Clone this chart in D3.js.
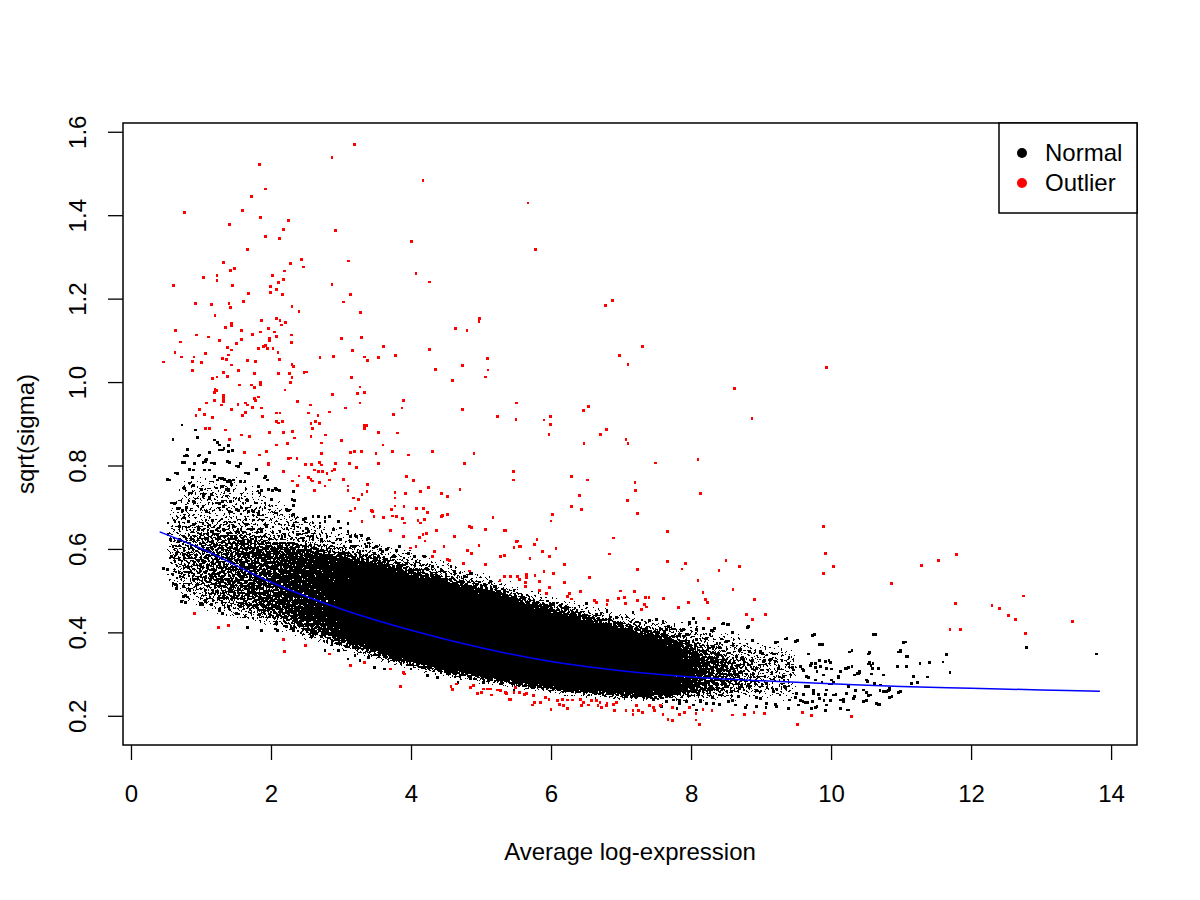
<!DOCTYPE html>
<html>
<head>
<meta charset="utf-8">
<script src="https://cdn.jsdelivr.net/npm/d3@7"></script>
<style>
    body { margin: 0; background: #fff; }
    text { font-family: "Liberation Sans", Arial, Helvetica, sans-serif; }
</style>
</head>
<body>
<script>
const WIDTH = 1200
const HEIGHT = 900

// plot box, R style
const BOX = { left: 123, right: 1137, top: 123, bottom: 745 }

const xTicks = [0, 2, 4, 6, 8, 10, 12, 14]
const yTicks = [0.2, 0.4, 0.6, 0.8, 1.0, 1.2, 1.4, 1.6]
const legendLabels = ["Normal", "Outlier"]
const legendColors = ["#000000", "#ff0000"]

// fitted trend (blue)
const trendX = [0.41, 1, 2, 3, 4, 5, 6, 7, 8, 9, 10, 11, 12, 13, 13.84]
const trendY = [0.641, 0.601, 0.52, 0.456, 0.405, 0.363, 0.330, 0.308, 0.293, 0.284, 0.277, 0.270, 0.266, 0.262, 0.259]

// band where the normal cloud is packed solid
const coreX = [0.5, 0.7, 1.0, 1.5, 2.0, 2.5, 3.0, 3.5, 4.0, 4.5, 5.0, 5.5, 6.0, 6.5, 7.0, 7.5, 8.0, 8.5, 9.0, 9.4]
const coreHi = [0.61, 0.64, 0.65, 0.64, 0.62, 0.605, 0.585, 0.565, 0.54, 0.52, 0.50, 0.475, 0.45, 0.43, 0.41, 0.39, 0.37, 0.345, 0.325, 0.305]
const coreLo = [0.565, 0.53, 0.50, 0.47, 0.44, 0.41, 0.38, 0.353, 0.328, 0.308, 0.292, 0.277, 0.264, 0.255, 0.249, 0.246, 0.249, 0.258, 0.27, 0.284]
// how packed that band is along x (0.85 solid, 0.5 about half covered)
const densityX = [0.5, 1.0, 2.0, 2.8, 3.4, 4.0, 7.4, 8.2, 8.8, 9.4]
const densityS = [0.47, 0.52, 0.58, 0.68, 0.78, 0.85, 0.85, 0.60, 0.50, 0.44]

// thinner halo round the band
const haloX = [0.45, 0.8, 1.3, 2.0, 2.5, 3.0, 4.0, 5.0, 6.0, 7.0, 8.0, 9.0, 9.6]
const haloHi = [0.68, 0.78, 0.78, 0.74, 0.69, 0.66, 0.61, 0.555, 0.50, 0.46, 0.43, 0.39, 0.36]
const haloLo = [0.52, 0.46, 0.43, 0.40, 0.37, 0.345, 0.305, 0.275, 0.25, 0.236, 0.228, 0.226, 0.235]
const haloS = 0.43

// normal genes read one by one, mostly outside the band
const normalPts = [
    [0.73,0.897],[0.60,0.863],[0.92,0.885],[0.95,0.868],[0.81,0.839],[0.79,0.825],[1.19,0.861],[1.24,0.855],[1.26,0.849],[1.31,0.837],
    [1.33,0.841],[1.40,0.833],[1.45,0.835],[1.39,0.847],[1.12,0.831],[1.07,0.813],[1.19,0.805],[0.55,0.765],[0.66,0.781],[0.77,0.808],
    [0.81,0.823],[0.89,0.789],[0.88,0.772],[0.89,0.753],[0.98,0.825],[1.07,0.809],[1.05,0.789],[1.12,0.789],[1.19,0.773],[1.24,0.765],
    [1.31,0.769],[1.38,0.761],[1.42,0.761],[1.47,0.765],[1.41,0.807],[1.54,0.797],[1.57,0.804],[1.68,0.781],[1.63,0.761],[0.77,0.745],
    [0.83,0.733],[0.89,0.713],[1.04,0.729],[1.12,0.721],[1.31,0.749],[1.40,0.743],[1.31,0.713],[1.26,0.709],[1.42,0.713],[1.83,0.749],
    [1.87,0.741],[1.92,0.773],[1.95,0.765],[2.02,0.741],[2.06,0.745],[2.12,0.741],[2.32,0.737],[2.33,0.717],[2.32,0.705],[2.25,0.693],
    [2.30,0.681],[0.62,0.709],[0.67,0.697],[0.74,0.693],[0.79,0.699],[1.54,0.693],[1.66,0.717],[1.68,0.689],[1.73,0.693],[1.83,0.689],
    [2.68,0.677],[2.77,0.675],[2.84,0.677],[2.96,0.665],[2.49,0.673],[2.51,0.649],[2.32,0.657],[2.23,0.649],[3.10,0.661],[3.13,0.629],
    [3.20,0.633],[3.29,0.633],[3.39,0.625],[3.36,0.605],[3.48,0.589],[3.53,0.581],[3.67,0.601],[3.79,0.597],[3.84,0.606],[3.96,0.589],
    [4.05,0.581],[4.07,0.569],[4.19,0.581],[4.31,0.557],[4.43,0.549],[4.57,0.557],[4.62,0.545],[4.76,0.533],[4.86,0.541],[5.00,0.513],
    [5.14,0.521],[5.19,0.509],[5.33,0.493],[5.47,0.485],[5.54,0.469],
    [0.52,0.550],[0.63,0.515],[0.78,0.472],[0.78,0.489],[0.81,0.485],[1.02,0.466],[1.07,0.477],[1.27,0.452],[1.31,0.446],[1.40,0.457],
    [1.54,0.444],[1.66,0.412],[1.59,0.469],[1.87,0.404],[2.06,0.408],[2.09,0.404],[2.32,0.404],[2.44,0.416],[2.58,0.390],[2.77,0.356],
    [2.96,0.356],[3.10,0.336],[3.20,0.344],[3.27,0.332],[3.39,0.340],[3.48,0.316],[3.62,0.312],[4.00,0.312],[4.24,0.296],[4.38,0.292],
    [4.52,0.300],[4.67,0.280],[4.85,0.288],[5.04,0.280],[5.28,0.276],[5.47,0.260],
    [5.33,0.501],[5.47,0.501],[5.57,0.484],[5.66,0.472],[5.80,0.472],[5.94,0.460],[6.04,0.469],[6.13,0.465],[6.23,0.460],[6.37,0.452],
    [6.51,0.469],[6.65,0.444],[6.80,0.452],[6.94,0.436],[7.17,0.448],[7.41,0.428],[7.51,0.430],[7.60,0.424],[7.74,0.408],[7.86,0.404],
    [7.98,0.420],[8.07,0.424],[8.17,0.408],[8.31,0.404],[8.45,0.420],[8.52,0.419],[8.59,0.400],[8.81,0.412],[8.88,0.380],[9.21,0.376],
    [9.35,0.384],[9.49,0.379],[10.95,0.318],
    [8.22,0.348],[8.41,0.364],[8.50,0.332],[8.59,0.312],[8.69,0.356],[8.74,0.340],[8.88,0.332],[9.02,0.348],[9.07,0.324],[9.19,0.348],
    [9.30,0.332],[9.40,0.340],[9.45,0.316],[9.59,0.312],[9.68,0.348],[9.78,0.316],[9.83,0.332],[9.97,0.332],[10.01,0.312],[10.11,0.292],
    [10.25,0.316],[10.39,0.300],[10.53,0.324],[10.58,0.300],[10.70,0.260],[10.82,0.260],[10.01,0.276],[9.92,0.252],[9.78,0.220],[9.64,0.232],
    [9.49,0.244],[9.35,0.268],[9.21,0.228],[9.07,0.220],[8.93,0.244],[8.78,0.220],[8.69,0.268],[8.59,0.236],[8.41,0.228],[8.31,0.244],
    [10.18,0.240],[10.35,0.260],[10.51,0.236],[10.68,0.228],
    [9.74,0.392],[9.83,0.371],[9.88,0.371],[10.61,0.394],[10.26,0.353],[10.53,0.348],[11.04,0.375],[10.96,0.353],[10.99,0.353],[11.08,0.342],
    [11.65,0.347],[11.60,0.329],[11.41,0.327],[11.27,0.325],[11.70,0.303],[11.38,0.293],[11.24,0.279],[11.15,0.277],[10.96,0.256],[10.79,0.259],
    [10.84,0.243],[10.70,0.227],[10.71,0.274],[10.62,0.278],[10.52,0.283],[10.57,0.320],[10.55,0.328],[10.59,0.313],[10.41,0.303],[10.38,0.302],
    [10.30,0.318],[10.25,0.315],[10.20,0.313],[10.11,0.295],[10.04,0.281],[9.97,0.276],[9.87,0.281],[9.78,0.286],[9.68,0.291],[9.61,0.308],
    [9.71,0.320],[9.78,0.325],[9.85,0.318],[9.92,0.330],[9.99,0.328],[10.25,0.271],[10.51,0.256],[10.53,0.249],[10.32,0.241],[10.18,0.235],
    [10.07,0.251],[9.99,0.236],[9.90,0.236],[9.82,0.251],[9.75,0.261],[9.64,0.271],[9.61,0.251],[9.56,0.236],[9.66,0.232],[9.73,0.235],
    [9.80,0.222],[9.92,0.212],[10.23,0.214],[10.83,0.266],[12.79,0.364],[13.79,0.348],
    [0.77,0.823],[0.63,0.782],[0.52,0.766],[0.74,0.807],[0.84,0.791],[0.91,0.804],[1.03,0.807],[1.15,0.806],[0.96,0.823],[1.08,0.815],
    [1.27,0.837],[1.39,0.833],[1.38,0.809],[1.51,0.799],[1.64,0.782],[1.79,0.790],[1.20,0.775],[1.27,0.770],[1.34,0.767],[1.41,0.764],
    [1.56,0.762],[1.44,0.754],[0.84,0.758],[0.75,0.746],[0.87,0.734],[1.01,0.742],[1.15,0.730],[1.22,0.746],[1.29,0.750],[1.37,0.742],
    [1.82,0.750],[1.91,0.770],[1.84,0.734],[1.96,0.742],[2.08,0.742],[2.01,0.718],[2.08,0.686],[0.58,0.710],[0.70,0.698],[0.80,0.698],
    [0.91,0.710],[1.03,0.702],[1.08,0.690],[1.22,0.710],[1.32,0.702],[1.41,0.690],[1.51,0.694],[1.60,0.710],[1.65,0.698],[1.75,0.690],
    [1.82,0.682],[2.22,0.694],[2.32,0.682],[2.30,0.718],[2.46,0.670],[2.60,0.678],[2.70,0.662],[2.77,0.666],[2.89,0.646],[2.99,0.650],
    [3.10,0.642],[3.22,0.630],[3.37,0.622],[3.46,0.602],[3.56,0.598],[3.65,0.598],[3.75,0.582],[3.82,0.566],
    [0.53,0.662],[0.63,0.666],[0.69,0.654],[0.77,0.674],[0.82,0.666],[0.89,0.658],[0.96,0.646],[1.03,0.660],[1.10,0.654],[1.15,0.642],
    [1.25,0.650],[1.32,0.646],[1.39,0.638],[1.46,0.654],[1.53,0.646],[1.60,0.638],[1.65,0.658],[1.72,0.646],[1.80,0.638],[1.87,0.646],
    [1.94,0.654],[2.03,0.638],[2.13,0.642],[2.20,0.630],[2.30,0.626],[2.37,0.634],[2.46,0.626],[2.53,0.642],[2.60,0.630],[2.72,0.622],
    [0.47,0.554],[0.60,0.518],[0.60,0.538],[0.70,0.534],[0.65,0.506],[0.75,0.510],[0.84,0.502],[0.75,0.486],[0.72,0.474],[0.99,0.470],
    [1.06,0.474],[1.15,0.466],[1.27,0.454],[1.25,0.482],[1.39,0.462],[1.32,0.486],[1.51,0.446],[1.56,0.462],[1.63,0.438],[1.70,0.454],
    [1.80,0.466],[1.84,0.442],[1.96,0.454],[2.03,0.438],[2.08,0.422],[2.22,0.414],[2.32,0.410],[2.37,0.430],[2.51,0.406],[2.60,0.398],
    [2.72,0.390],[2.80,0.378],[2.87,0.370],[2.99,0.374],[3.08,0.366],[3.22,0.366],[3.37,0.362],[3.46,0.374],[3.56,0.366],[3.68,0.362],
    [3.77,0.366],
    [8.03,0.434],[7.98,0.424],[8.08,0.406],[8.18,0.410],[8.27,0.394],[8.34,0.410],[8.46,0.422],[8.53,0.418],[8.43,0.384],[8.82,0.414],
    [8.60,0.370],[8.70,0.358],[8.84,0.354],[8.99,0.354],[9.13,0.334],[9.23,0.377],[9.37,0.386],[9.52,0.380],[9.76,0.394],[9.87,0.372],
    [10.30,0.356],[10.55,0.352],[10.63,0.394],[11.07,0.377],[10.99,0.356],[11.10,0.342],[7.60,0.426],[7.68,0.414],[7.75,0.408],[7.89,0.406],
    [7.84,0.394],[7.70,0.386],
    [8.75,0.334],[8.87,0.326],[8.94,0.314],[9.03,0.330],[9.10,0.310],[9.20,0.330],[9.25,0.314],[9.32,0.294],[9.39,0.326],[9.46,0.310],
    [9.56,0.318],[9.65,0.294],[9.72,0.326],[9.80,0.306],[9.89,0.298],[9.94,0.314],[10.01,0.286],[10.13,0.306],[10.22,0.314],[10.34,0.298],
    [10.41,0.306],[10.51,0.286],[10.60,0.326],[10.68,0.314],[10.75,0.298],[10.84,0.262],[10.99,0.258],[11.08,0.318],[11.18,0.294],[8.75,0.286],
    [8.84,0.270],[8.94,0.262],[8.99,0.242],[9.08,0.278],[9.18,0.258],[9.27,0.250],[9.34,0.270],[9.41,0.238],[9.51,0.254],[9.60,0.234],
    [9.68,0.270],[9.75,0.254],[9.84,0.242],[9.94,0.262],[10.03,0.250],[10.13,0.238],[10.22,0.254],[10.34,0.246],[10.46,0.262],[10.56,0.250],
    [10.65,0.230],[10.75,0.258],[10.87,0.246],[8.80,0.226],[8.94,0.222],[9.08,0.230],[9.22,0.222],[9.39,0.218],[9.53,0.226],[9.72,0.218],
    [9.94,0.226],[10.13,0.218],[10.25,0.214],[10.46,0.234],
    [8.32,0.366],[8.39,0.350],[8.46,0.334],[8.51,0.318],[8.41,0.306],[8.56,0.298],[8.63,0.286],[8.37,0.278],[8.49,0.270],[8.58,0.258],
    [8.68,0.246],[8.41,0.250],[8.53,0.234],[8.63,0.226],[8.32,0.230],[8.70,0.322],[8.65,0.342],[8.34,0.326],[8.27,0.294],[8.27,0.262],
    [8.51,0.286],[8.72,0.270],
    [7.56,0.246],[7.65,0.234],[7.75,0.238],[7.84,0.230],[7.94,0.234],[8.03,0.226],[8.13,0.238],[8.22,0.230],[7.58,0.222],[7.80,0.218],
    [8.08,0.214],[7.63,0.254],
    [5.37,0.462],[5.51,0.450],[5.63,0.458],[5.75,0.446],[5.87,0.454],[5.99,0.438],[6.10,0.446],[6.27,0.438],[6.41,0.430],[6.56,0.434],
    [6.70,0.422],[6.84,0.430],[6.99,0.418],[7.13,0.414],[7.27,0.422],[7.37,0.406],[7.51,0.398],[7.65,0.406],[7.80,0.390],[7.94,0.394],
    [8.08,0.382],[8.22,0.386],[8.37,0.374],[8.51,0.378],
    [3.65,0.574],[3.80,0.558],[3.94,0.566],[4.08,0.550],[4.22,0.554],[4.37,0.534],[4.51,0.526],[4.65,0.518],[4.80,0.514],[4.94,0.502],
    [5.08,0.506],[5.22,0.494],[5.37,0.482],[5.51,0.478],[3.75,0.534],[3.99,0.526],[4.27,0.518],[4.56,0.506],[4.84,0.494],
    [2.51,0.638],[2.60,0.622],[2.80,0.630],[2.89,0.614],[2.99,0.622],[3.18,0.606],[3.27,0.594],[2.70,0.654],[2.89,0.646],[2.60,0.662],
    [3.03,0.590],[3.13,0.618],[3.39,0.614],[3.51,0.606],[3.60,0.594],
    [0.53,0.634],[0.56,0.622],[0.60,0.606],[0.58,0.582],[0.63,0.570],[0.65,0.590],[0.70,0.622],
    [6.13,0.270],[6.51,0.261],[6.84,0.253],[7.08,0.246],[7.27,0.254],[7.46,0.240],[7.65,0.246],[7.84,0.237],[8.13,0.234],[5.75,0.270],
    [5.46,0.278]
]

// genes flagged as outliers (red)
const outlierPts = [
    [3.19,1.569],[2.87,1.539],[1.84,1.521],[4.17,1.484],[1.92,1.463],[1.72,1.445],[1.59,1.412],[0.77,1.406],[1.85,1.395],[2.25,1.387],
    [1.41,1.378],[2.18,1.365],[2.92,1.363],[1.92,1.349],[2.12,1.345],[4.01,1.337],[1.67,1.318],[2.43,1.294],[3.11,1.290],[1.32,1.287],
    [2.28,1.284],[1.48,1.273],[2.46,1.276],[1.42,1.267],[2.19,1.266],[4.07,1.260],[2.02,1.255],[1.23,1.256],[1.04,1.250],[1.23,1.243],
    [2.11,1.238],[2.18,1.246],[4.26,1.240],[0.61,1.231],[1.45,1.231],[1.99,1.230],[2.87,1.233],[2.08,1.222],[1.68,1.213],[1.99,1.214],
    [2.16,1.210],[3.13,1.210],[3.04,1.192],[1.61,1.193],[0.92,1.188],[1.15,1.185],[1.40,1.188],[1.42,1.178],[2.30,1.181],[2.40,1.169],
    [3.28,1.166],[1.20,1.160],[2.08,1.152],[1.86,1.148],[2.13,1.147],[2.21,1.142],[1.44,1.141],[2.15,1.137],[1.44,1.136],[4.98,1.152],
    [4.97,1.145],[4.64,1.128],[4.80,1.124],[1.35,1.130],[1.97,1.128],[0.64,1.123],[1.58,1.124],[2.05,1.120],[0.94,1.113],[1.74,1.114],
    [1.85,1.120],[2.29,1.113],[2.08,1.109],[1.98,1.105],[1.11,1.108],[1.27,1.100],[1.58,1.102],[0.71,1.096],[1.98,1.100],[2.29,1.094],
    [3.01,1.105],[3.29,1.106],[1.51,1.092],[1.92,1.088],[1.89,1.085],[1.95,1.080],[2.03,1.081],[1.82,1.080],[1.38,1.082],[1.44,1.077],
    [3.61,1.086],[4.26,1.078],[3.16,1.076],[0.63,1.070],[1.06,1.068],[2.10,1.070],[1.39,1.065],[0.72,1.060],[0.90,1.060],[1.31,1.057],
    [1.37,1.055],[1.66,1.052],[1.78,1.049],[2.12,1.054],[2.70,1.058],[2.89,1.062],[3.34,1.060],[3.38,1.051],[3.53,1.058],[3.78,1.063],
    [5.09,1.056],[0.46,1.048],[0.88,1.050],[1.01,1.046],[1.44,1.041],[2.30,1.043],[2.32,1.038],[4.73,1.039],[5.10,1.029],[4.35,1.031],
    [0.88,1.027],[1.54,1.027],[1.32,1.022],[1.76,1.020],[2.11,1.020],[2.27,1.020],[2.47,1.023],[2.51,1.024],[1.38,1.014],[2.30,1.010],
    [3.15,1.010],[5.06,1.012],[1.17,1.008],[1.23,1.012],[4.59,1.004],[1.85,0.999],[1.85,0.995],[1.55,0.993],[1.72,0.993],[1.76,0.987],
    [2.28,0.998],[3.27,0.988],[1.20,0.983],[1.22,0.979],[2.20,0.981],[1.19,0.975],[3.34,0.975],[2.88,0.971],[3.24,0.972],[1.32,0.967],
    [1.32,0.961],[1.82,0.964],[1.76,0.961],[1.19,0.955],[1.32,0.953],[1.78,0.955],[2.38,0.954],[3.89,0.955],[1.08,0.950],[1.53,0.947],
    [1.64,0.950],[1.66,0.945],[1.29,0.945],[2.56,0.945],[3.27,0.950],[5.51,0.950],[1.44,0.935],[1.74,0.939],[1.87,0.938],[0.98,0.935],
    [3.06,0.938],[3.87,0.938],[4.73,0.935],[1.05,0.922],[0.93,0.919],[1.17,0.916],[1.59,0.919],[1.64,0.927],[1.88,0.917],[2.08,0.926],
    [2.13,0.926],[2.53,0.926],[2.67,0.919],[2.83,0.928],[3.75,0.922],[5.23,0.917],[5.50,0.910],[2.08,0.906],[2.11,0.902],[2.16,0.905],
    [2.57,0.900],[2.63,0.905],[2.69,0.900],[3.36,0.896],[1.07,0.889],[1.12,0.889],[2.59,0.889],[3.33,0.889],
    [5.67,1.429],[5.78,1.317],[6.88,1.195],[6.78,1.184],[7.31,1.085],[6.98,1.064],[7.10,1.043],[8.62,0.985],[8.87,0.913],[5.99,0.917],
    [6.46,0.931],[6.54,0.941],
    [1.35,0.885],[1.41,0.863],[1.58,0.873],[1.69,0.869],[1.98,0.879],[2.18,0.880],[2.31,0.881],[2.33,0.866],[2.57,0.869],[2.78,0.873],
    [2.72,0.854],[3.01,0.860],[3.34,0.895],[3.53,0.880],[3.81,0.878],[2.08,0.849],[2.24,0.853],[1.62,0.831],[1.84,0.825],[1.94,0.834],
    [2.72,0.829],[3.13,0.831],[3.19,0.833],[3.29,0.834],[3.60,0.849],[3.73,0.834],[3.50,0.828],[3.96,0.825],[4.31,0.834],[4.90,0.829],
    [2.25,0.816],[2.28,0.818],[2.37,0.816],[1.97,0.805],[1.97,0.801],[2.49,0.802],[2.58,0.802],[2.69,0.808],[2.72,0.801],[2.92,0.804],
    [3.12,0.805],[3.22,0.796],[3.54,0.805],[2.62,0.789],[2.68,0.785],[2.74,0.785],[2.80,0.781],[2.87,0.787],[2.91,0.791],[2.18,0.785],
    [4.76,0.805],[2.40,0.775],[2.53,0.772],[2.57,0.767],[2.59,0.763],[2.31,0.763],[2.38,0.752],[2.69,0.760],[2.77,0.751],[2.84,0.765],
    [3.03,0.767],[3.10,0.751],[3.10,0.741],[3.38,0.755],[3.37,0.737],[3.30,0.730],[2.62,0.741],[3.93,0.773],[4.04,0.764],[4.25,0.748],
    [4.13,0.737],[4.70,0.743],[4.43,0.733],[4.52,0.725],[3.92,0.733],[3.77,0.735],[3.77,0.722],[3.18,0.722],[3.25,0.718],[3.13,0.691],
    [3.20,0.696],[3.44,0.693],[3.45,0.690],[3.72,0.695],[3.77,0.703],[3.90,0.701],[4.08,0.696],[4.18,0.696],[4.24,0.688],[3.30,0.666],
    [3.47,0.677],[3.61,0.675],[3.74,0.679],[3.79,0.677],[3.88,0.673],[3.91,0.662],[3.71,0.645],[4.10,0.669],[4.19,0.671],[4.13,0.662],
    [4.43,0.677],[4.45,0.681],[4.52,0.682],[4.36,0.645],[4.83,0.653],[4.86,0.651],[5.06,0.647],[5.17,0.675],[5.35,0.645],[5.46,0.785],
    [5.46,0.765],[3.89,0.629],[4.12,0.627],[4.17,0.635],[4.22,0.637],[4.20,0.619],[4.62,0.629],[3.99,0.602],[4.07,0.605],[4.34,0.593],
    [4.31,0.582],[4.47,0.606],[4.52,0.574],[4.55,0.573],[4.81,0.597],[4.86,0.589],[4.97,0.609],[5.28,0.582],[5.33,0.584],[5.52,0.619],
    [5.47,0.603],[5.55,0.605],[4.75,0.565],[4.84,0.547],[5.06,0.562],[5.27,0.525],[5.33,0.533],[5.42,0.534],[5.55,0.526],
    [0.91,0.445],[1.25,0.412],[1.39,0.416],[2.18,0.383],[2.19,0.354],[2.49,0.368],[2.84,0.348],[3.14,0.320],[3.34,0.327],[3.71,0.312],
    [3.89,0.303],[3.91,0.300],[3.85,0.270],[4.57,0.270],[4.59,0.263],[4.65,0.276],[4.85,0.268],[4.89,0.272],[4.95,0.254],[5.01,0.256],
    [5.04,0.264],[5.09,0.264],[5.14,0.264],[5.15,0.250],[5.24,0.262],[5.28,0.260],[5.36,0.254],[5.42,0.240],[5.49,0.268],[5.55,0.256],
    [5.90,0.909],[5.99,0.898],[5.97,0.875],[6.71,0.875],[6.79,0.887],[6.47,0.852],[7.07,0.863],[7.10,0.852],[7.49,0.806],[8.10,0.815],
    [6.29,0.774],[6.52,0.765],[7.20,0.760],[7.21,0.740],[8.13,0.733],[6.41,0.728],[7.09,0.717],[6.29,0.701],[6.44,0.695],[6.02,0.683],
    [6.00,0.667],[7.24,0.685],[5.34,0.645],[7.66,0.642],[6.89,0.626],[5.51,0.618],[5.80,0.622],[5.76,0.610],[5.47,0.603],[5.56,0.606],
    [5.88,0.594],[6.07,0.601],[5.98,0.582],[6.83,0.588],[5.70,0.577],[6.19,0.562],[7.66,0.569],[7.92,0.565],[7.87,0.552],[8.50,0.573],
    [8.69,0.558],[8.40,0.549],[7.23,0.550],[5.90,0.545],[6.04,0.541],[5.77,0.536],[5.65,0.538],[5.65,0.531],[5.42,0.535],[5.52,0.533],
    [6.55,0.531],[5.64,0.519],[5.83,0.522],[6.19,0.519],[8.10,0.525],[9.89,0.653],[9.92,0.590],[10.04,0.558],[9.89,0.541],[10.86,0.517],
    [5.63,0.509],[5.98,0.507],[6.42,0.498],[6.26,0.493],[6.24,0.486],[6.29,0.480],[5.94,0.494],[5.84,0.501],[6.99,0.499],[7.05,0.484],
    [6.96,0.481],[7.06,0.470],[6.62,0.476],[6.65,0.472],[6.81,0.477],[6.80,0.467],[7.19,0.498],[7.24,0.476],[7.35,0.483],[7.40,0.483],
    [7.33,0.467],[7.36,0.461],[7.29,0.454],[7.61,0.481],[7.82,0.459],[7.96,0.471],[8.17,0.495],[8.21,0.479],[8.23,0.471],[8.25,0.434],
    [8.60,0.502],[8.91,0.479],[8.79,0.442],[8.88,0.430],[9.06,0.442],
    [5.35,0.256],[5.47,0.256],[5.62,0.252],[5.65,0.254],[5.75,0.248],[5.41,0.240],[5.74,0.226],[5.76,0.232],[5.85,0.232],[6.00,0.215],
    [5.92,0.244],[5.97,0.240],[6.09,0.236],[6.16,0.240],[6.23,0.238],[6.12,0.228],[6.18,0.224],[6.24,0.217],[6.31,0.238],[6.42,0.240],
    [6.46,0.232],[6.44,0.224],[6.54,0.226],[6.58,0.236],[6.65,0.236],[6.67,0.224],[6.72,0.220],[6.79,0.224],[6.70,0.232],[6.80,0.230],
    [6.89,0.228],[6.94,0.232],[6.91,0.212],[7.07,0.212],[7.17,0.212],[7.22,0.224],[7.25,0.212],[7.31,0.208],[7.17,0.204],[7.41,0.224],
    [7.46,0.220],[7.48,0.212],[7.56,0.224],[7.60,0.204],[7.67,0.192],[7.74,0.188],[7.74,0.220],[7.84,0.204],[7.91,0.208],[7.98,0.220],
    [8.07,0.206],[8.07,0.190],[8.12,0.179],[8.17,0.216],[8.30,0.212],[8.59,0.202],[8.76,0.204],[8.90,0.208],[9.05,0.206],[9.52,0.180],
    [9.59,0.207],[9.72,0.201],[10.29,0.198],
    [9.93,1.034],[11.29,0.560],[11.53,0.572],[11.79,0.587],[11.78,0.469],[11.70,0.407],[11.85,0.407],[12.30,0.465],[12.41,0.457],[12.54,0.440],
    [12.64,0.430],[12.75,0.487],[12.78,0.397],[13.45,0.426]
]

const POINT = 2.8

const svg = d3.select("body")
    .append("svg")
    .attr("width", WIDTH)
    .attr("height", HEIGHT)
    .style("background", "#fff")

const xScale = d3.scaleLinear()
    .domain([-0.114, 14.37])
    .range([BOX.left, BOX.right])

const yScale = d3.scaleLinear()
    .domain([0.130, 1.621])
    .range([BOX.bottom, BOX.top])

const defs = svg.append("defs")

// packing of the band along x, carried in the red channel
const gx1 = xScale(densityX[0])
const gx2 = xScale(densityX[densityX.length - 1])
const grad = defs.append("linearGradient")
    .attr("id", "coreDensity")
    .attr("gradientUnits", "userSpaceOnUse")
    .attr("x1", gx1).attr("x2", gx2)
    .attr("y1", 0).attr("y2", 0)
grad.selectAll("stop")
    .data(densityX)
    .enter()
    .append("stop")
    .attr("offset", d => (xScale(d) - gx1) / (gx2 - gx1))
    .attr("stop-color", (d, i) => d3.rgb(Math.round(255 * densityS[i]), 0, 0).formatHex())

// turns the density map into black grains, like overplotted dots
const grain = defs.append("filter")
    .attr("id", "grain")
    .attr("filterUnits", "userSpaceOnUse")
    .attr("color-interpolation-filters", "sRGB")
    .attr("x", BOX.left).attr("y", BOX.top)
    .attr("width", BOX.right - BOX.left).attr("height", BOX.bottom - BOX.top)
grain.append("feColorMatrix")
    .attr("in", "SourceGraphic").attr("type", "matrix")
    .attr("values", "0 0 0 0 0  0 0 0 0 0  0 0 0 0 0  1 0 0 0 0")
    .attr("result", "dens")
grain.append("feGaussianBlur")
    .attr("in", "dens").attr("stdDeviation", 7).attr("result", "soft")
grain.append("feTurbulence")
    .attr("type", "fractalNoise").attr("baseFrequency", 0.42)
    .attr("numOctaves", 2).attr("seed", 7).attr("result", "noise")
grain.append("feColorMatrix")
    .attr("in", "noise").attr("type", "matrix")
    .attr("values", "0 0 0 0 0  0 0 0 0 0  0 0 0 0 0  1 0 0 0 0")
    .attr("result", "noiseA")
grain.append("feComposite")
    .attr("in", "soft").attr("in2", "noiseA")
    .attr("operator", "arithmetic")
    .attr("k1", 0).attr("k2", 2).attr("k3", 1.4).attr("k4", -1.2)
    .attr("result", "mix")
grain.append("feComponentTransfer")
    .attr("in", "mix")
    .append("feFuncA").attr("type", "discrete").attr("tableValues", "0 1")

const cloud = svg.append("g").attr("filter", "url(#grain)")

const halo = haloX.map((x, i) => ({ x: x, lo: haloLo[i], hi: haloHi[i] }))
const core = coreX.map((x, i) => ({ x: x, lo: coreLo[i], hi: coreHi[i] }))
const band = d3.area()
    .x(d => xScale(d.x))
    .y0(d => yScale(d.lo))
    .y1(d => yScale(d.hi))
    .curve(d3.curveMonotoneX)

cloud.append("path")
    .datum(halo)
    .attr("fill", d3.rgb(Math.round(255 * haloS), 0, 0).formatHex())
    .attr("d", band)

cloud.append("path")
    .datum(core)
    .attr("fill", "url(#coreDensity)")
    .attr("d", band)

svg.append("g")
    .attr("shape-rendering", "crispEdges")
    .selectAll("rect")
    .data(normalPts)
    .enter()
    .append("rect")
    .attr("x", d => xScale(d[0]) - POINT / 2)
    .attr("y", d => yScale(d[1]) - POINT / 2)
    .attr("width", POINT)
    .attr("height", POINT)
    .attr("fill", legendColors[0])

svg.append("g")
    .attr("shape-rendering", "crispEdges")
    .selectAll("rect")
    .data(outlierPts)
    .enter()
    .append("rect")
    .attr("x", d => xScale(d[0]) - POINT / 2)
    .attr("y", d => yScale(d[1]) - POINT / 2)
    .attr("width", POINT)
    .attr("height", POINT)
    .attr("fill", legendColors[1])

// trend line
const trend = trendX.map((x, i) => [x, trendY[i]])
svg.append("path")
    .datum(trend)
    .attr("fill", "none")
    .attr("stroke", "#0000ff")
    .attr("stroke-width", 1.5)
    .attr("d", d3.line()
        .x(d => xScale(d[0]))
        .y(d => yScale(d[1]))
        .curve(d3.curveMonotoneX))

// axes
const xAxis = d3.axisBottom(xScale)
    .tickValues(xTicks)
    .tickSize(15)
    .tickSizeOuter(0)
    .tickFormat(d3.format("d"))

const gx = svg.append("g")
    .attr("transform", "translate(0, " + BOX.bottom + ")")
    .call(xAxis)
gx.select(".domain").remove()
gx.selectAll("line").attr("stroke", "#000").attr("stroke-width", 1.3)
gx.selectAll("text")
    .attr("y", 57)
    .attr("dy", 0)
    .attr("fill", "#000")
    .style("font-size", "24px")
    .style("font-family", "'Liberation Sans', Arial, sans-serif")

const yAxis = d3.axisLeft(yScale)
    .tickValues(yTicks)
    .tickSize(15)
    .tickSizeOuter(0)
    .tickFormat(d3.format(".1f"))

const gy = svg.append("g")
    .attr("transform", "translate(" + BOX.left + ", 0)")
    .call(yAxis)
gy.select(".domain").remove()
gy.selectAll("line").attr("stroke", "#000").attr("stroke-width", 1.3)
gy.selectAll("text")
    .attr("x", 0)
    .attr("y", -37)
    .attr("dy", 0)
    .attr("transform", "rotate(-90)")
    .attr("text-anchor", "middle")
    .attr("fill", "#000")
    .style("font-size", "24px")
    .style("font-family", "'Liberation Sans', Arial, sans-serif")

// box
svg.append("rect")
    .attr("x", BOX.left)
    .attr("y", BOX.top)
    .attr("width", BOX.right - BOX.left)
    .attr("height", BOX.bottom - BOX.top)
    .attr("fill", "none")
    .attr("stroke", "#000")
    .attr("stroke-width", 1.5)

svg.append("text")
    .attr("x", (BOX.left + BOX.right) / 2)
    .attr("y", 860)
    .attr("text-anchor", "middle")
    .style("font-size", "24px")
    .text("Average log-expression")

svg.append("text")
    .attr("transform", "translate(34, " + (BOX.top + BOX.bottom) / 2 + ") rotate(-90)")
    .attr("text-anchor", "middle")
    .style("font-size", "24px")
    .text("sqrt(sigma)")

// legend, top right
const legend = svg.append("g")
    .attr("transform", "translate(" + (BOX.right - 138) + ", " + BOX.top + ")")

legend.append("rect")
    .attr("width", 138)
    .attr("height", 90)
    .attr("fill", "#fff")
    .attr("stroke", "#000")
    .attr("stroke-width", 1.5)

legend.selectAll("circle")
    .data(legendLabels)
    .enter()
    .append("circle")
    .attr("cx", 23)
    .attr("cy", (d, i) => 30 + i * 30)
    .attr("r", 5)
    .attr("fill", (d, i) => legendColors[i])

legend.selectAll("text")
    .data(legendLabels)
    .enter()
    .append("text")
    .attr("x", 46)
    .attr("y", (d, i) => 38 + i * 30)
    .style("font-size", "24px")
    .text(d => d)
</script>
</body>
</html>
